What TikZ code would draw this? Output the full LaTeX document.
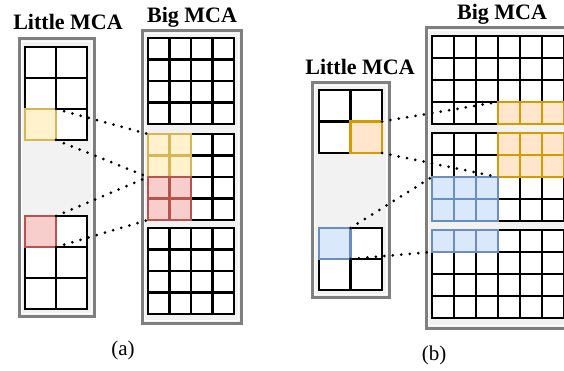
\documentclass[tikz,border=0pt]{standalone}
\usepackage{fontspec}
\setmainfont{Liberation Serif}
\definecolor{boxgray}{HTML}{7F7F7F}
\definecolor{bgfill}{HTML}{F2F2F2}
\definecolor{yelF}{HTML}{FFF2CC}\definecolor{yelD}{HTML}{D6B656}
\definecolor{redF}{HTML}{F8CECC}\definecolor{redD}{HTML}{B85450}
\definecolor{orgF}{HTML}{FFE6CC}\definecolor{orgD}{HTML}{D79B00}
\definecolor{bluF}{HTML}{DAE8FC}\definecolor{bluD}{HTML}{6C8EBF}
\newcommand\mcagrid[6]{%
  \fill[white] (#1,#2) rectangle ++({#3*#5},{#4*#6});
  \foreach \k in {0,...,#3} \draw[gridline] ({#1+\k*#5},#2) -- ++(0,{#4*#6});
  \foreach \k in {0,...,#4} \draw[gridline] (#1,{#2+\k*#6}) -- ++({#3*#5},0);
}
\newcommand\mcabox[4]{%
  \draw[outerbox] (#1,#2) rectangle (#3,#4);
  \draw[white,line width=1pt] ({#1+2.5},{#2+2.5}) rectangle ({#3-2.5},{#4-2.5});
}
\begin{document}
\begin{tikzpicture}[x=1pt,y=-1pt,
  gridline/.style={black,line width=2.6pt,line cap=rect},
  outerbox/.style={draw=boxgray,line width=3pt,fill=bgfill},
  hlcell/.style={line width=2.6pt,inner sep=0pt,outer sep=0pt,anchor=north west},
  yelcell/.style={hlcell,draw=yelD,fill=yelF},
  redcell/.style={hlcell,draw=redD,fill=redF},
  orgcell/.style={hlcell,draw=orgD,fill=orgF},
  blucell/.style={hlcell,draw=bluD,fill=bluF},
  hlline/.style={line width=2.6pt},
  conn/.style={black,line width=3pt,line cap=round,dash pattern=on 0pt off 8.5pt},
  lbl/.style={font=\fontsize{22}{24}\selectfont\bfseries,anchor=base,inner sep=0pt},
  captext/.style={font=\fontsize{21}{24}\selectfont,anchor=base,inner sep=0pt}]
\useasboundingbox (0,0) rectangle (564,371);
\clip (0,0) rectangle (564,371);

% ---------- panel (a) ----------
\mcabox{19}{39}{94}{316}
\mcagrid{25}{47}{2}{3}{31}{31}
\mcagrid{25}{216}{2}{3}{31}{31}
\node[yelcell,minimum width=31pt,minimum height=31pt] (ya) at (25,109) {};
\node[redcell,minimum width=31pt,minimum height=31pt] (ra) at (25,216) {};

\mcabox{142}{31}{241}{323}
\mcagrid{148}{38}{4}{4}{21.5}{21.5}
\mcagrid{148}{134}{4}{4}{21.5}{21.5}
\mcagrid{148}{228}{4}{4}{21.5}{21.5}
\node[yelcell,minimum width=43pt,minimum height=43pt] (yb) at (148,134) {};
\draw[hlline,yelD] (yb.north) -- (yb.south) (yb.west) -- (yb.east);
\node[redcell,minimum width=43pt,minimum height=43pt] (rb) at (148,177) {};
\draw[hlline,redD] (rb.north) -- (rb.south) (rb.west) -- (rb.east);

\draw[conn] (ya.north east) -- (yb.north west);
\draw[conn] (ya.south east) -- (yb.south west);
\draw[conn] (ra.north east) -- (rb.north west);
\draw[conn] (ra.south east) -- (rb.south west);

\node[lbl] (la) at (68,30) {Little MCA};
\node[lbl] (ba) at (192,23) {Big MCA};
\node[captext] (ca) at (123,355) {(a)};

% ---------- panel (b) ----------
\mcabox{312}{83}{389}{297}
\mcagrid{319}{90}{2}{2}{31.5}{31.5}
\mcagrid{319}{228}{2}{2}{31.5}{31}
\node[orgcell,minimum width=31.5pt,minimum height=31.5pt] (ol) at (350.5,121.5) {};
\node[blucell,minimum width=31.5pt,minimum height=31pt] (bl) at (319,228) {};

\mcabox{426}{28}{620}{328}
\mcagrid{432}{36}{6}{4}{22}{22}
\mcagrid{432}{133}{6}{4}{22}{22}
\mcagrid{432}{230}{6}{4}{22}{22}
\node[orgcell,minimum width=66pt,minimum height=22pt] (ot) at (498,102) {};
\draw[hlline,orgD] (520,102) -- (520,124) (542,102) -- (542,124);
\node[orgcell,minimum width=66pt,minimum height=44pt] (om) at (498,133) {};
\draw[hlline,orgD] (520,133) -- (520,177) (542,133) -- (542,177) (om.west) -- (om.east);
\node[blucell,minimum width=66pt,minimum height=44pt] (bm) at (432,177) {};
\draw[hlline,bluD] (454,177) -- (454,221) (476,177) -- (476,221) (bm.west) -- (bm.east);
\node[blucell,minimum width=66pt,minimum height=22pt] (bb) at (432,230) {};
\draw[hlline,bluD] (454,230) -- (454,252) (476,230) -- (476,252);

\draw[conn] (ol.north east) -- (ot.north west);
\draw[conn] (ol.south east) -- (om.south west);
\draw[conn] (bl.north east) -- (bm.north west);
\draw[conn] (bl.south east) -- (bb.south west);

\node[lbl] (lb) at (360,75) {Little MCA};
\node[lbl] (bbl) at (502,20) {Big MCA};
\node[captext] (cb) at (434,360) {(b)};
\end{tikzpicture}
\end{document}
